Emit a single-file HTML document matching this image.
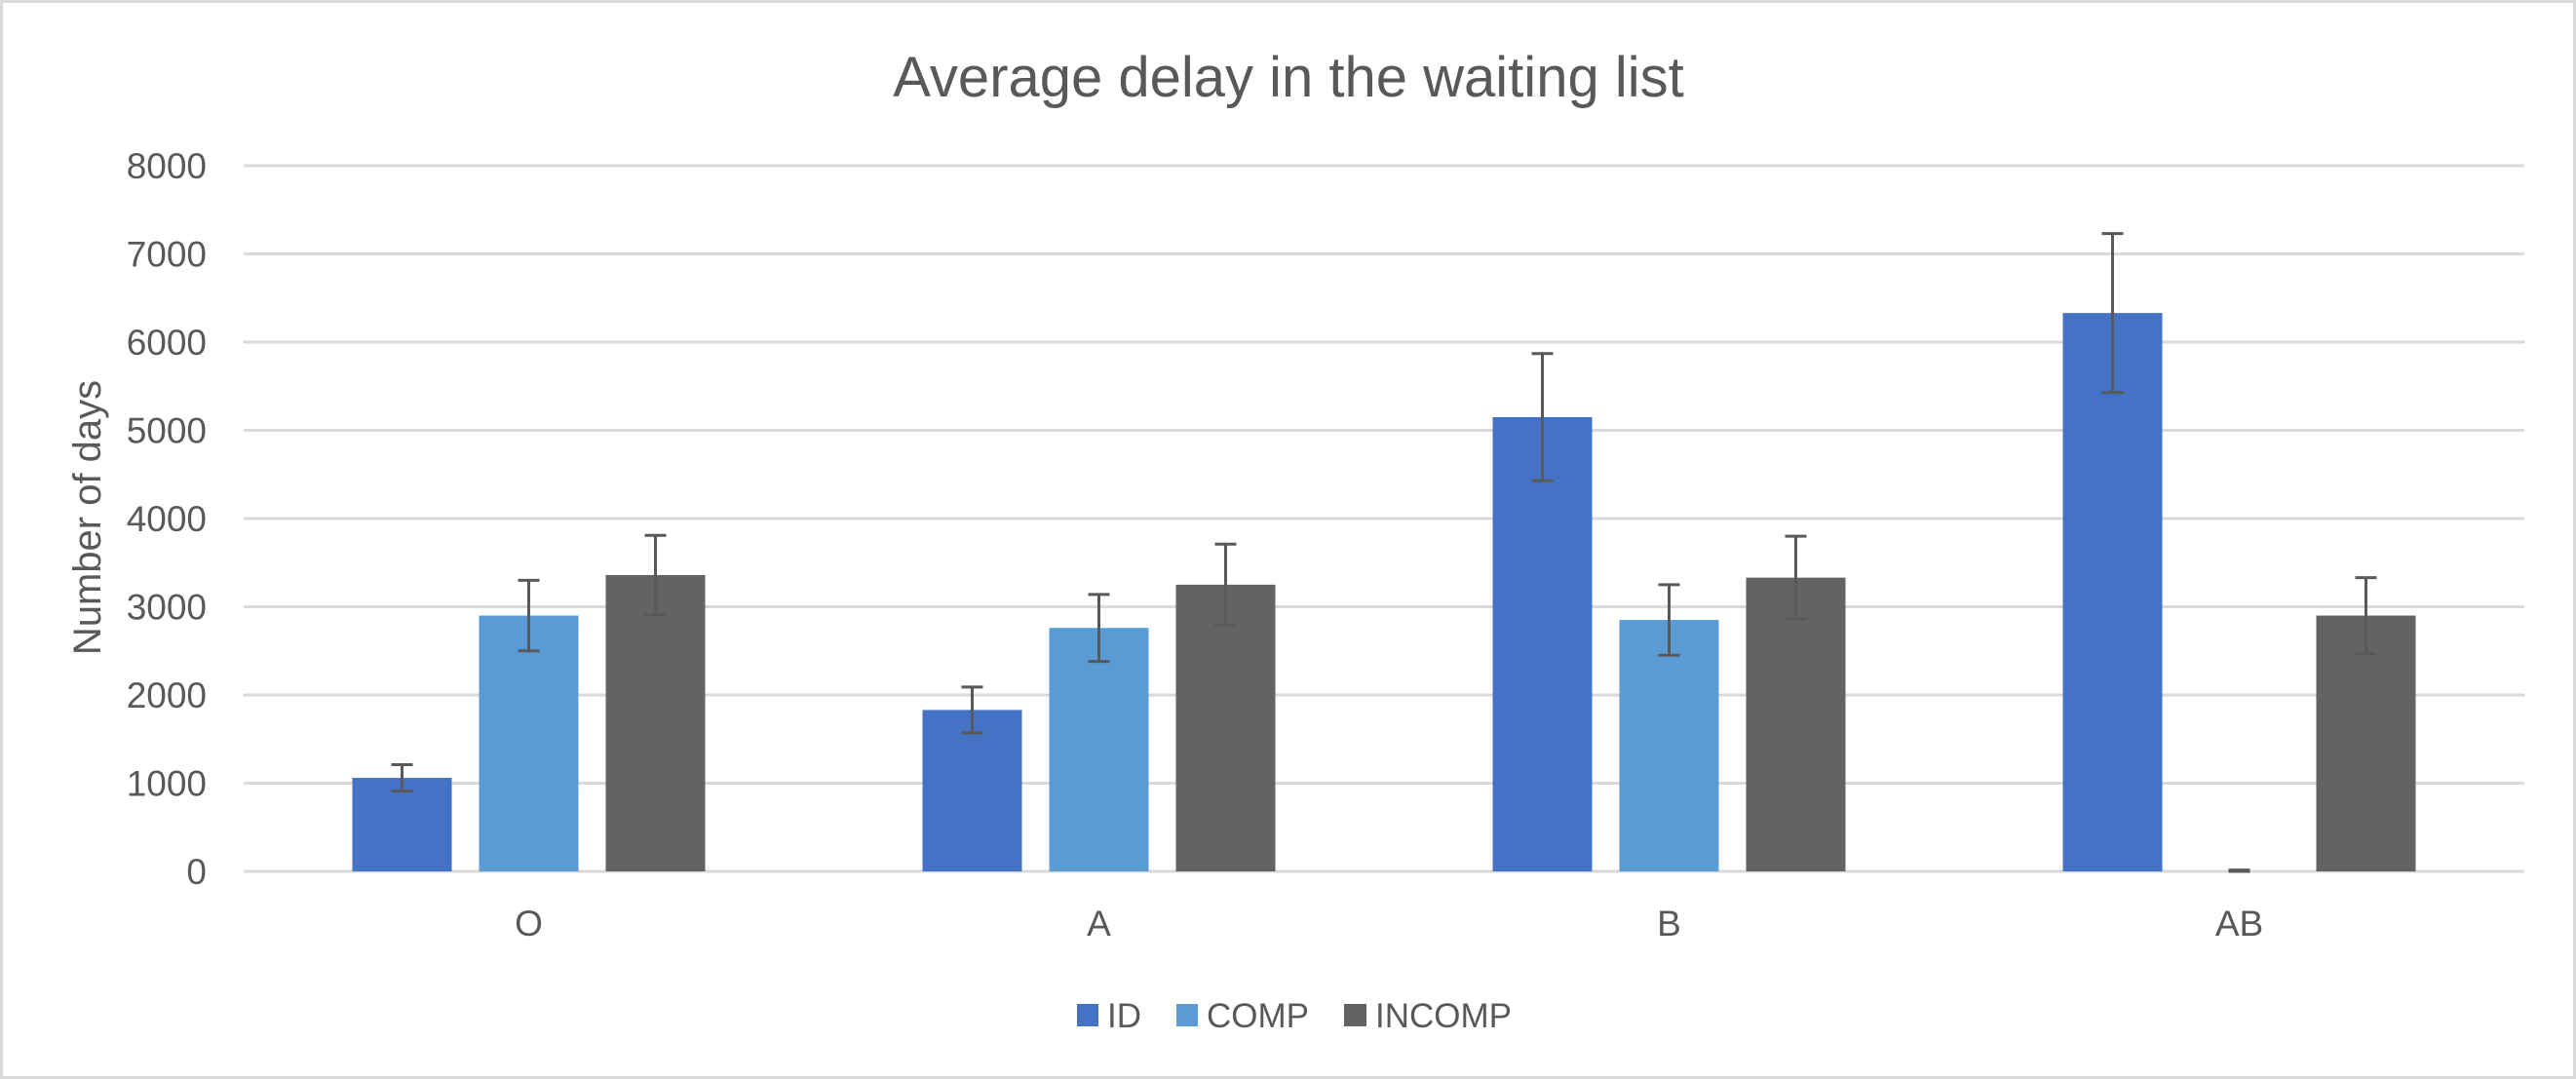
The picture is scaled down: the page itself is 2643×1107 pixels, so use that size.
<!DOCTYPE html>
<html><head><meta charset="utf-8"><style>
body{margin:0;background:#fff;}
svg{display:block;font-family:"Liberation Sans",sans-serif;}
</style></head><body>
<svg id="chart" width="2643" height="1107" viewBox="0 0 2643 1107" xmlns="http://www.w3.org/2000/svg">
<rect x="1.5" y="1.5" width="2640" height="1104" fill="#fff" stroke="#d9d9d9" stroke-width="3"/>
<text x="1322" y="99" text-anchor="middle" font-size="58" fill="#595959">Average delay in the waiting list</text>
<text transform="translate(103,531) rotate(-90)" text-anchor="middle" font-size="40" fill="#595959">Number of days</text>
<g id="grid"></g><g id="bars"></g><g id="xlabels"></g>
<g>
<rect x="1105" y="1030" width="22" height="23" fill="#4472c4"/>
<text x="1136" y="1054" font-size="35" fill="#595959">ID</text>
<rect x="1207" y="1030" width="22" height="23" fill="#5b9bd5"/>
<text x="1238" y="1054" font-size="35" fill="#595959">COMP</text>
<rect x="1379" y="1030" width="23" height="23" fill="#636363"/>
<text x="1411" y="1054" font-size="35" fill="#595959">INCOMP</text>
</g>
</svg>
<script>
const categories = ["O","A","B","AB"];
const seriesNames = ["ID","COMP","INCOMP"];
const idValues = [1060,1830,5150,6330];
const compValues = [2900,2760,2850,0];
const incompValues = [3360,3250,3330,2900];
const idErrors = [150,260,720,900];
const compErrors = [400,380,400,15];
const incompErrors = [450,460,470,430];
const yTicks = [0,1000,2000,3000,4000,5000,6000,7000,8000];

const NS="http://www.w3.org/2000/svg";
const plotL=250, plotR=2590, y0=894, y8=170, yMax=8000;
const colors=["#4472c4","#5b9bd5","#636363"];
const allVals=[idValues,compValues,incompValues];
const allErr=[idErrors,compErrors,incompErrors];
function yScale(v){return y0-(v/yMax)*(y0-y8);}
const groupW=(plotR-plotL)/categories.length;
function xCenter(i){return plotL+groupW*(i+0.5);}
const barW=102, step=130;
function mk(tag,attrs,parent){const e=document.createElementNS(NS,tag);for(const k in attrs)e.setAttribute(k,attrs[k]);parent.appendChild(e);return e;}
const grid=document.getElementById('grid');
yTicks.forEach(t=>{
  const l=mk('line',{x1:plotL,x2:plotR,y1:yScale(t),y2:yScale(t),stroke:'#d9d9d9','stroke-width':3},grid);
  
  
  const tx=mk('text',{x:212,y:yScale(t)+13,'text-anchor':'end','font-size':37,fill:'#595959'},grid);
  tx.textContent=t;
  
  
});
const bars=document.getElementById('bars');
categories.forEach((c,i)=>{
  allVals.forEach((vals,s)=>{
    const cx=xCenter(i)+(s-1)*step;
    const v=vals[i];
    if(v>0){
      const r=mk('rect',{x:cx-barW/2,y:yScale(v),width:barW,height:yScale(0)-yScale(v),fill:colors[s]},bars);
      
      
    }
    const e=allErr[s][i];
    const g=mk('g',{stroke:'#595959','stroke-width':3},bars);
    
    
    const hi=yScale(v+e), lo=yScale(Math.max(0,v-e));
    mk('line',{x1:cx,x2:cx,y1:hi,y2:lo},g);
    mk('line',{x1:cx-11,x2:cx+11,y1:hi,y2:hi},g);
    mk('line',{x1:cx-11,x2:cx+11,y1:lo,y2:lo},g);
  });
  const t=mk('text',{x:xCenter(i),y:960,'text-anchor':'middle','font-size':37,fill:'#595959'},document.getElementById('xlabels'));
  t.textContent=c;
  
  
});
</script>
</body></html>
